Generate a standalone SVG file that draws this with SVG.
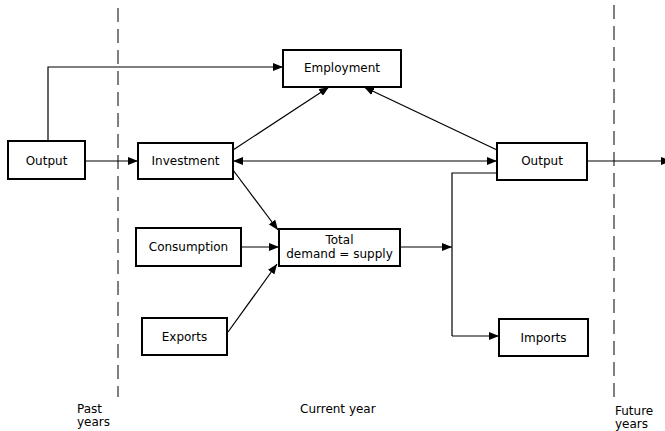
<svg xmlns="http://www.w3.org/2000/svg" width="665" height="431" viewBox="0 0 665 431">
<style>
.box{fill:#fff;stroke:#000;stroke-width:2}
.t{font-family:"DejaVu Sans","Liberation Sans",sans-serif;font-size:12px;fill:#000;text-anchor:middle}
.l{font-family:"DejaVu Sans","Liberation Sans",sans-serif;font-size:12px;fill:#000}
.c{fill:none;stroke:#000;stroke-width:1.2}
.d{fill:none;stroke:#000;stroke-width:1;stroke-dasharray:14,7}
</style>
<defs>
<marker id="a" viewBox="0 0 10 8" refX="10" refY="4" markerWidth="10" markerHeight="8" markerUnits="userSpaceOnUse" orient="auto-start-reverse">
<path d="M0,0 L10,4 L0,8 Z" fill="#000"/>
</marker>
</defs>
<g id="dividers">
<line class="d" x1="118" y1="8" x2="118" y2="397"/>
<line class="d" x1="614" y1="5" x2="614" y2="397"/>
</g>
<g id="connectors">
<polyline class="c" points="48,141 48,67 283,67" marker-end="url(#a)"/>
<line class="c" x1="85" y1="161" x2="138" y2="161" marker-end="url(#a)"/>
<line class="c" x1="233" y1="150" x2="329" y2="87" marker-end="url(#a)"/>
<line class="c" x1="497" y1="150" x2="364" y2="87" marker-end="url(#a)"/>
<line class="c" x1="233" y1="161" x2="497" y2="161" marker-start="url(#a)" marker-end="url(#a)"/>
<line class="c" x1="587" y1="161" x2="671" y2="161" marker-end="url(#a)"/>
<line class="c" x1="233" y1="170" x2="278" y2="230" marker-end="url(#a)"/>
<line class="c" x1="241" y1="247" x2="279" y2="247" marker-end="url(#a)"/>
<line class="c" x1="228" y1="332" x2="277" y2="264" marker-end="url(#a)"/>
<line class="c" x1="400" y1="247" x2="452" y2="247" marker-end="url(#a)"/>
<polyline class="c" points="497,173 452,173 452,336"/>
<line class="c" x1="452" y1="336" x2="499" y2="336" marker-end="url(#a)"/>
</g>
<g id="output-past">
<rect class="box" x="8" y="141" width="77" height="38"/>
<text class="t" x="46.5" y="165">Output</text>
</g>
<g id="investment">
<rect class="box" x="138" y="143" width="95" height="36"/>
<text class="t" x="185.5" y="165">Investment</text>
</g>
<g id="employment">
<rect class="box" x="283" y="50" width="118" height="37"/>
<text class="t" x="342" y="72">Employment</text>
</g>
<g id="output-current">
<rect class="box" x="497" y="143" width="90" height="37"/>
<text class="t" x="542" y="165">Output</text>
</g>
<g id="consumption">
<rect class="box" x="136" y="228" width="105" height="38"/>
<text class="t" x="188.5" y="251">Consumption</text>
</g>
<g id="total">
<rect class="box" x="279" y="229" width="121" height="37"/>
<text class="t" x="339.5" y="244">Total</text>
<text class="t" x="339.5" y="258">demand = supply</text>
</g>
<g id="exports">
<rect class="box" x="142" y="318" width="85" height="37"/>
<text class="t" x="184.5" y="341">Exports</text>
</g>
<g id="imports">
<rect class="box" x="499" y="319" width="89" height="37"/>
<text class="t" x="543.5" y="342">Imports</text>
</g>
<g id="labels">
<text class="l" x="77" y="413">Past</text>
<text class="l" x="77" y="426">years</text>
<text class="l" x="300" y="413">Current year</text>
<text class="l" x="615" y="415">Future</text>
<text class="l" x="615" y="428">years</text>
</g>
</svg>
